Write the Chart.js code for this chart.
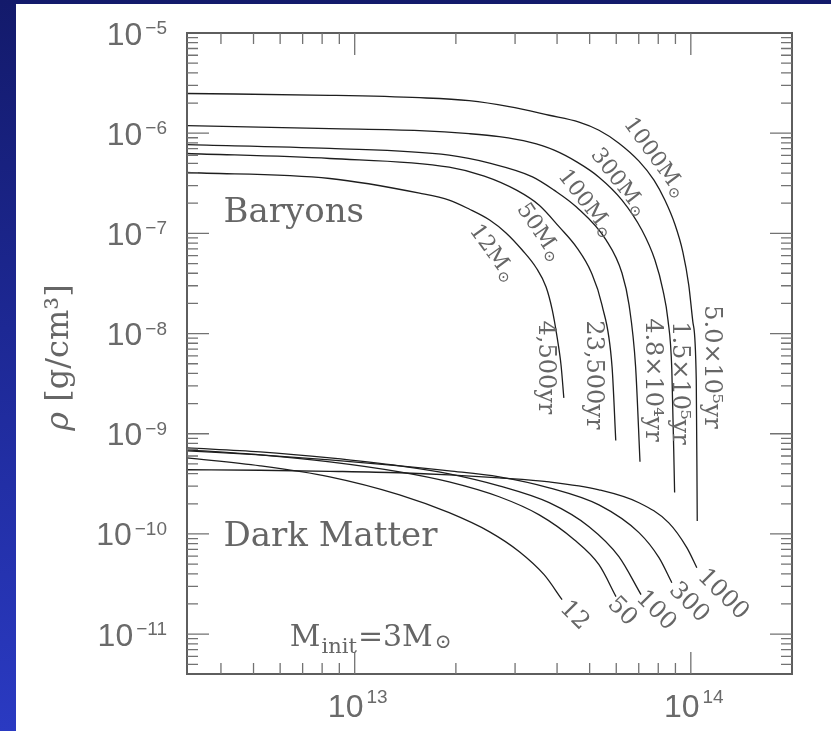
<!DOCTYPE html>
<html>
<head>
<meta charset="utf-8">
<script src="https://cdn.jsdelivr.net/npm/chart.js@4/dist/chart.umd.min.js"></script>
<style>
  html, body { margin: 0; padding: 0; width: 831px; height: 731px; overflow: hidden; }
  body { position: relative; background: linear-gradient(to bottom, #131a6b 0%, #1d2894 45%, #2a3ac2 100%); }
  #sheet { position: absolute; left: 16px; top: 4px; right: 0; bottom: 0; background: #ffffff; }
  #c { position: absolute; left: 0; top: 0; }
</style>
</head>
<body>
<div id="sheet"></div>
<canvas id="c" width="831" height="731"></canvas>
<script>
// Radius r [cm] and density rho [g/cm^3] for each model (initial mass 3 Msun)

// Baryons
const b12R    = [3.17e12, 8.43e12, 1.559e13, 1.91e13, 2.19e13, 2.52e13, 2.82e13, 3.15e13, 3.47e13, 3.71e13, 3.87e13, 4.00e13, 4.11e13, 4.19e13];
const b12Rho  = [4.05e-7, 3.53e-7, 2.52e-7, 2.15e-7, 1.75e-7, 1.36e-7, 1.01e-7, 6.82e-8, 4.51e-8, 2.91e-8, 1.72e-8, 9.25e-9, 4.86e-9, 2.28e-9];

const b50R    = [3.17e12, 8.43e12, 1.91e13, 2.43e13, 3.03e13, 3.54e13, 4.06e13, 4.59e13, 5.05e13, 5.44e13, 5.83e13, 5.98e13];
const b50Rho  = [6.27e-7, 5.59e-7, 4.58e-7, 3.73e-7, 2.70e-7, 1.91e-7, 1.16e-7, 7.13e-8, 4.11e-8, 1.93e-8, 4.65e-9, 8.55e-10];

const b100R   = [3.17e12, 8.43e12, 1.91e13, 2.52e13, 3.38e13, 3.92e13, 4.56e13, 5.60e13, 6.24e13, 6.55e13, 6.85e13, 7.06e13];
const b100Rho = [7.68e-7, 7.04e-7, 6.03e-7, 5.02e-7, 3.67e-7, 2.70e-7, 1.84e-7, 8.57e-8, 4.02e-8, 1.93e-8, 4.68e-9, 5.25e-10];

const b300R   = [3.17e12, 8.43e12, 1.559e13, 2.19e13, 2.69e13, 3.31e13, 3.92e13, 4.59e13, 5.33e13, 6.24e13, 7.15e13, 7.82e13, 8.26e13, 8.55e13, 8.78e13, 8.95e13];
const b300Rho = [1.19e-6, 1.11e-6, 1.06e-6, 9.89e-7, 9.23e-7, 8.13e-7, 6.77e-7, 5.14e-7, 3.64e-7, 2.15e-7, 1.08e-7, 5.42e-8, 2.72e-8, 1.37e-8, 4.34e-9, 2.59e-10];

const b1000R   = [3.17e12, 8.43e12, 1.559e13, 2.19e13, 2.88e13, 3.79e13, 4.65e13, 5.33e13, 6.11e13, 7.01e13, 7.77e13, 8.37e13, 8.96e13, 9.47e13, 9.86e13, 1.014e14, 1.038e14, 1.045e14];
const b1000Rho = [2.49e-6, 2.39e-6, 2.26e-6, 2.11e-6, 1.84e-6, 1.51e-6, 1.29e-6, 1.07e-6, 7.95e-7, 5.26e-7, 3.40e-7, 2.15e-7, 1.24e-7, 6.51e-8, 3.05e-8, 1.31e-8, 3.45e-9, 1.35e-10];

// Dark matter
const d12R    = [3.17e12, 5.23e12, 8.43e12, 1.36e13, 1.91e13, 2.52e13, 3.09e13, 3.66e13, 4.14e13];
const d12Rho  = [5.75e-10, 4.79e-10, 3.72e-10, 2.46e-10, 1.63e-10, 1.05e-10, 6.65e-11, 3.92e-11, 2.21e-11];

const d50R    = [3.17e12, 5.23e12, 8.43e12, 1.36e13, 1.91e13, 2.69e13, 3.54e13, 4.50e13, 5.33e13, 5.99e13];
const d50Rho  = [6.91e-10, 6.16e-10, 5.25e-10, 4.17e-10, 3.31e-10, 2.35e-10, 1.55e-10, 8.75e-11, 4.93e-11, 2.37e-11];

const d100R   = [3.17e12, 5.23e12, 8.43e12, 1.36e13, 1.91e13, 2.69e13, 3.79e13, 4.98e13, 6.11e13, 7.11e13];
const d100Rho = [7.23e-10, 6.60e-10, 5.75e-10, 4.79e-10, 3.98e-10, 3.02e-10, 2.05e-10, 1.18e-10, 5.93e-11, 2.48e-11];

const d300R   = [3.17e12, 5.23e12, 8.43e12, 1.36e13, 1.91e13, 2.69e13, 3.79e13, 5.33e13, 7.01e13, 8.04e13, 8.78e13];
const d300Rho = [6.75e-10, 6.16e-10, 5.49e-10, 4.79e-10, 4.27e-10, 3.72e-10, 2.89e-10, 1.95e-10, 1.03e-10, 5.79e-11, 3.26e-11];

const d1000R   = [3.17e12, 5.23e12, 8.43e12, 1.36e13, 1.91e13, 2.69e13, 3.79e13, 5.33e13, 7.01e13, 8.60e13, 9.73e13, 1.042e14];
const d1000Rho = [4.37e-10, 4.32e-10, 4.22e-10, 4.08e-10, 3.89e-10, 3.63e-10, 3.31e-10, 2.76e-10, 2.05e-10, 1.29e-10, 7.29e-11, 4.60e-11];

// Axis ranges and labelled decades
const rMin = 3.17e12, rMax = 2.0e14;
const rhoMin = 4.0e-12, rhoMax = 1.0e-5;
const xTickExponents = ['13', '14'];
const yTickExponents = ['−5', '−6', '−7', '−8', '−9', '−10', '−11'];

// Curve tags
const massTags = ['12', '50', '100', '300', '1000'];
const ageTags  = ['4,500yr', '23,500yr', '4.8×10⁴yr', '1.5×10⁵yr', '5.0×10⁵yr'];
const dmTags   = ['12', '50', '100', '300', '1000'];

// Where the tags sit, in data coordinates (centre of the text)
const massTagAt = [
  { x: 2.57e13, y: 6.36e-8, rot: 54 },
  { x: 3.54e13, y: 1.03e-7, rot: 56 },
  { x: 4.88e13, y: 2.00e-7, rot: 52 },
  { x: 6.11e13, y: 3.25e-7, rot: 52 },
  { x: 7.82e13, y: 5.70e-7, rot: 54 }
];
const ageTagAt = [
  { x: 3.69e13, y: 4.59e-9 },
  { x: 5.12e13, y: 3.87e-9 },
  { x: 7.66e13, y: 3.45e-9 },
  { x: 9.21e13, y: 3.22e-9 },
  { x: 1.154e14, y: 4.64e-9 }
];
const dmTagAt = [
  { x: 4.50e13, y: 1.53e-11 },
  { x: 6.24e13, y: 1.68e-11 },
  { x: 7.87e13, y: 1.71e-11 },
  { x: 9.86e13, y: 2.06e-11 },
  { x: 1.245e14, y: 2.48e-11 }
];

const curves = [
  [b12R, b12Rho], [b50R, b50Rho], [b100R, b100Rho], [b300R, b300Rho], [b1000R, b1000Rho],
  [d12R, d12Rho], [d50R, d50Rho], [d100R, d100Rho], [d300R, d300Rho], [d1000R, d1000Rho]
];

const datasets = curves.map(([r, rho]) => ({
  data: r.map((v, i) => ({ x: v, y: rho[i] })),
  borderColor: '#1e1e1e',
  borderWidth: 1.3,
  pointRadius: 0,
  fill: false,
  cubicInterpolationMode: 'monotone'
}));

const TXT = '#666666';
const SERIF = '"DejaVu Serif", serif';
const SANS = '"Liberation Sans", Arial, sans-serif';

// base "10" with a raised exponent
function powerLabel(ctx, exp, anchorX, tickPos, axis) {
  ctx.font = '32px ' + SANS;
  const bw = ctx.measureText('10').width;
  ctx.font = '19px ' + SANS;
  const ew = ctx.measureText(exp).width;
  const gap = 3;
  let bx, by, ex, ey;
  if (axis === 'y') {
    const right = anchorX;
    ex = right - ew; bx = ex - gap - bw;
    by = tickPos + 11.5; ey = tickPos + 1;
  } else {
    const total = bw + gap + ew;
    bx = tickPos + 3 - total / 2; ex = bx + bw + gap;
    by = anchorX + 42.5; ey = anchorX + 29;
  }
  ctx.textAlign = 'left';
  ctx.textBaseline = 'alphabetic';
  ctx.font = '32px ' + SANS;
  ctx.fillText('10', bx, by);
  ctx.font = '19px ' + SANS;
  ctx.fillText(exp, ex, ey);
}

const pgFrame = {
  id: 'pgFrame',
  afterDatasetsDraw(chart) {
    const { ctx, chartArea: a, scales: { x, y } } = chart;
    ctx.save();

    // frame
    ctx.strokeStyle = '#5e5e5e';
    ctx.lineWidth = 2;
    ctx.strokeRect(a.left, a.top, a.right - a.left, a.bottom - a.top);

    // ticks on all four sides, pointing inward
    ctx.strokeStyle = '#727272';
    ctx.lineWidth = 1.3;
    ctx.beginPath();
    const xd0 = Math.floor(Math.log10(x.min)), xd1 = Math.ceil(Math.log10(x.max));
    for (let d = xd0; d <= xd1; d++) {
      for (let m = 1; m <= 9; m++) {
        const px = x.getPixelForValue(m * Math.pow(10, d));
        if (px <= a.left + 1.5 || px >= a.right - 1.5) continue;
        const len = m === 1 ? 22 : 11;
        ctx.moveTo(px, a.bottom); ctx.lineTo(px, a.bottom - len);
        ctx.moveTo(px, a.top); ctx.lineTo(px, a.top + len);
      }
    }
    const yd0 = Math.floor(Math.log10(y.min)), yd1 = Math.ceil(Math.log10(y.max));
    for (let d = yd0; d <= yd1; d++) {
      for (let m = 1; m <= 9; m++) {
        const py = y.getPixelForValue(m * Math.pow(10, d));
        if (py <= a.top + 1.5 || py >= a.bottom - 1.5) continue;
        const len = m === 1 ? 22 : 11;
        ctx.moveTo(a.left, py); ctx.lineTo(a.left + len, py);
        ctx.moveTo(a.right, py); ctx.lineTo(a.right - len, py);
      }
    }
    ctx.stroke();

    // decade labels
    ctx.fillStyle = '#6a6a6a';
    xTickExponents.forEach(e => {
      const px = x.getPixelForValue(Math.pow(10, Number(e)));
      powerLabel(ctx, e, a.bottom, px, 'x');
    });
    yTickExponents.forEach(e => {
      const py = y.getPixelForValue(Math.pow(10, Number(e.replace('−', '-'))));
      powerLabel(ctx, e, a.left - 20, py, 'y');
    });

    ctx.fillStyle = TXT;

    // axis title, rotated
    ctx.save();
    ctx.translate(60, (a.top + a.bottom) / 2 + 4);
    ctx.rotate(-Math.PI / 2);
    ctx.textBaseline = 'middle';
    ctx.font = 'italic 32px ' + SERIF;
    const rhoW = ctx.measureText('ρ').width;
    ctx.font = '32px ' + SERIF;
    const restW = ctx.measureText(' [g/cm³]').width;
    const tw = rhoW + restW;
    ctx.textAlign = 'left';
    ctx.font = 'italic 32px ' + SERIF;
    ctx.fillText('ρ', -tw / 2, 0);
    ctx.font = '32px ' + SERIF;
    ctx.fillText(' [g/cm³]', -tw / 2 + rhoW, 0);
    ctx.restore();

    // panel words
    ctx.textAlign = 'left';
    ctx.textBaseline = 'alphabetic';
    ctx.font = '34px ' + SERIF;
    ctx.fillText('Baryons', x.getPixelForValue(4.07e12), y.getPixelForValue(1.31e-7));
    ctx.fillText('Dark Matter', x.getPixelForValue(4.07e12), y.getPixelForValue(7.51e-11));

    // M_init = 3 Msun
    let cx = x.getPixelForValue(6.41e12);
    const base = y.getPixelForValue(7.56e-12);
    ctx.font = '30px ' + SERIF;
    ctx.fillText('M', cx, base); cx += ctx.measureText('M').width + 1;
    ctx.font = '21px ' + SERIF;
    ctx.fillText('init', cx, base + 7); cx += ctx.measureText('init').width + 1;
    ctx.font = '30px ' + SERIF;
    ctx.fillText('=3M', cx, base); cx += ctx.measureText('=3M').width + 2;
    ctx.font = '20px ' + SERIF;
    ctx.fillText('⊙', cx, base + 2);

    // mass tags along the baryon curves
    massTags.forEach((t, i) => {
      const p = massTagAt[i];
      ctx.save();
      ctx.translate(x.getPixelForValue(p.x), y.getPixelForValue(p.y));
      ctx.rotate(p.rot * Math.PI / 180);
      ctx.textBaseline = 'middle';
      ctx.textAlign = 'left';
      ctx.font = '22px ' + SERIF;
      const w1 = ctx.measureText(t + 'M').width;
      ctx.font = '15px ' + SERIF;
      const w2 = ctx.measureText('⊙').width;
      const start = -(w1 + w2 + 1) / 2;
      ctx.font = '22px ' + SERIF;
      ctx.fillText(t + 'M', start, 0);
      ctx.font = '15px ' + SERIF;
      ctx.fillText('⊙', start + w1 + 1, 6);
      ctx.restore();
    });

    // age tags beside the steep ends
    ageTags.forEach((t, i) => {
      const p = ageTagAt[i];
      ctx.save();
      ctx.translate(x.getPixelForValue(p.x), y.getPixelForValue(p.y));
      ctx.rotate(Math.PI / 2);
      ctx.textBaseline = 'middle';
      ctx.textAlign = 'center';
      ctx.font = '24px ' + SERIF;
      ctx.fillText(t, 0, 0);
      ctx.restore();
    });

    // dark matter tags at the curve ends
    dmTags.forEach((t, i) => {
      const p = dmTagAt[i];
      ctx.save();
      ctx.translate(x.getPixelForValue(p.x), y.getPixelForValue(p.y));
      ctx.rotate(45 * Math.PI / 180);
      ctx.textBaseline = 'middle';
      ctx.textAlign = 'center';
      ctx.font = '24px ' + SERIF;
      ctx.fillText(t, 0, 0);
      ctx.restore();
    });

    ctx.restore();
  }
};

new Chart(document.getElementById('c'), {
  type: 'line',
  data: { datasets },
  options: {
    responsive: false,
    animation: false,
    devicePixelRatio: 1,
    layout: { padding: { left: 187, top: 33, right: 39, bottom: 57 } },
    plugins: { legend: { display: false }, tooltip: { enabled: false } },
    scales: {
      x: { type: 'logarithmic', min: rMin, max: rMax, display: false },
      y: { type: 'logarithmic', min: rhoMin, max: rhoMax, display: false }
    }
  },
  plugins: [pgFrame]
});
</script>
</body>
</html>
